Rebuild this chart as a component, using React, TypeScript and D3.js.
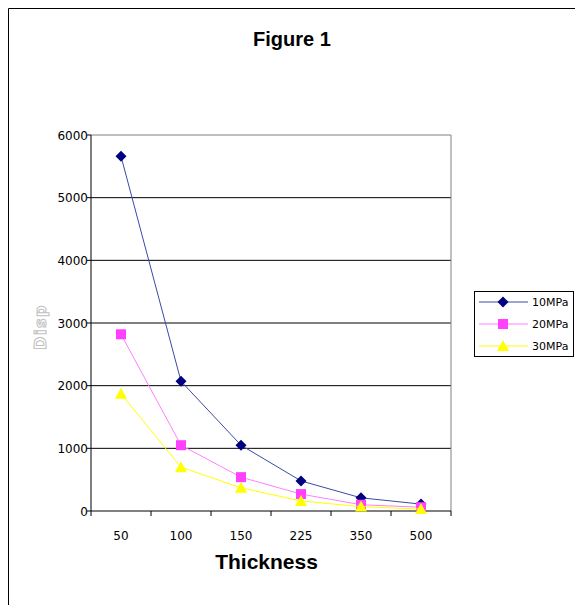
import React, { useEffect } from "react";
import * as d3 from "d3";

const categories = ["50", "100", "150", "225", "350", "500"];
const series10 = [5660, 2070, 1050, 480, 210, 110];
const series20 = [2820, 1050, 540, 270, 100, 60];
const series30 = [1870, 700, 370, 160, 70, 30];
const yTicks = [0, 1000, 2000, 3000, 4000, 5000, 6000];
const seriesNames = ["10MPa", "20MPa", "30MPa"];

const W = 575;
const H = 605;
const plot = { left: 91, right: 451, top: 135, bottom: 511 };

export default function App() {
  useEffect(() => {
    document.documentElement.style.overflow = "hidden";
    document.body.style.overflow = "hidden";
  }, []);

  const x = d3
    .scaleBand<string>()
    .domain(categories)
    .range([plot.left, plot.right])
    .padding(0);
  const y = d3.scaleLinear().domain([0, 6000]).range([plot.bottom, plot.top]);
  const line = d3
    .line<number>()
    .x((_, i) => (x(categories[i]) as number) + x.bandwidth() / 2)
    .y((d) => y(d));

  const all = [
    { name: seriesNames[0], data: series10, line: "#3a4aa6", fill: "#000080", shape: "diamond" },
    { name: seriesNames[1], data: series20, line: "#ff80ff", fill: "#ff40ff", shape: "square" },
    { name: seriesNames[2], data: series30, line: "#ffff00", fill: "#ffff00", shape: "triangle" },
  ];

  const marker = (shape: string, cx: number, cy: number, fill: string, key: string) => {
    if (shape === "diamond") {
      const s = 5.5;
      return (
        <path key={key} d={`M${cx},${cy - s}L${cx + s},${cy}L${cx},${cy + s}L${cx - s},${cy}Z`} fill={fill} />
      );
    }
    if (shape === "square") {
      return <rect key={key} x={cx - 5} y={cy - 5} width={10} height={10} fill={fill} />;
    }
    return (
      <path key={key} d={`M${cx},${cy - 6}L${cx + 6},${cy + 5}L${cx - 6},${cy + 5}Z`} fill={fill} />
    );
  };

  const font = "'DejaVu Sans', Verdana, sans-serif";
  const bold = "'Liberation Sans', Arial, sans-serif";

  return (
    <svg
      width={W}
      height={H}
      style={{ display: "block", position: "fixed", left: 0, top: 0 }}
    >
      <rect x={0} y={0} width={W} height={H} fill="#fff" />
      <path d={`M8.5,${H}V8.5H${W}`} fill="none" stroke="#000" strokeWidth={1} />
      <text x={292} y={46} textAnchor="middle" fontFamily={bold} fontWeight="bold" fontSize={20}>
        Figure 1
      </text>

      {/* gridlines */}
      {yTicks.slice(1, -1).map((t) => (
        <line key={t} x1={plot.left} x2={plot.right} y1={y(t)} y2={y(t)} stroke="#000" strokeWidth={1} />
      ))}
      {/* plot border top/right */}
      <path
        d={`M${plot.left},${plot.top}H${plot.right}V${plot.bottom}`}
        fill="none"
        stroke="#808080"
        strokeWidth={1}
      />
      {/* axes */}
      <line x1={plot.left} x2={plot.left} y1={plot.top} y2={plot.bottom} stroke="#000" />
      <line x1={plot.left} x2={plot.right} y1={plot.bottom} y2={plot.bottom} stroke="#000" />
      {yTicks.map((t) => (
        <g key={t}>
          <line x1={plot.left - 4} x2={plot.left} y1={y(t)} y2={y(t)} stroke="#000" />
          <text x={plot.left - 3} y={y(t) + 4.5} textAnchor="end" fontFamily={font} fontSize={12}>
            {t}
          </text>
        </g>
      ))}
      {categories.map((c) => (
        <line
          key={c}
          x1={x(c) as number}
          x2={x(c) as number}
          y1={plot.bottom}
          y2={plot.bottom + 5}
          stroke="#000"
        />
      ))}
      <line x1={plot.right} x2={plot.right} y1={plot.bottom} y2={plot.bottom + 5} stroke="#000" />
      {categories.map((c) => (
        <text
          key={c}
          x={(x(c) as number) + x.bandwidth() / 2}
          y={540}
          textAnchor="middle"
          fontFamily={font}
          fontSize={12}
        >
          {c}
        </text>
      ))}
      <text x={266.5} y={569} textAnchor="middle" fontFamily={bold} fontWeight="bold" fontSize={21}>
        Thickness
      </text>
      <text
        transform={`translate(46,327) rotate(-90)`}
        textAnchor="middle"
        fontFamily={font}
        fontWeight="bold"
        fontSize={16}
        letterSpacing={1.5}
        fill="#fff"
        stroke="#c0c0c0"
        strokeWidth={1}
      >
        Disp
      </text>

      {all.map((s) => (
        <g key={s.name}>
          <path d={line(s.data) as string} fill="none" stroke={s.line} strokeWidth={1} />
          {s.data.map((v, i) =>
            marker(s.shape, (x(categories[i]) as number) + x.bandwidth() / 2, y(v), s.fill, s.name + i)
          )}
        </g>
      ))}

      {/* legend */}
      <rect x={474.5} y={291.5} width={99} height={65} fill="#fff" stroke="#000" />
      {all.map((s, i) => {
        const ly = 302 + i * 22;
        return (
          <g key={s.name}>
            <line x1={479} x2={528} y1={ly} y2={ly} stroke={s.line} strokeWidth={1} />
            {marker(s.shape, 503, ly, s.fill, "lg" + i)}
            <text x={532} y={ly + 4} fontFamily={font} fontSize={11}>
              {s.name}
            </text>
          </g>
        );
      })}
    </svg>
  );
}
